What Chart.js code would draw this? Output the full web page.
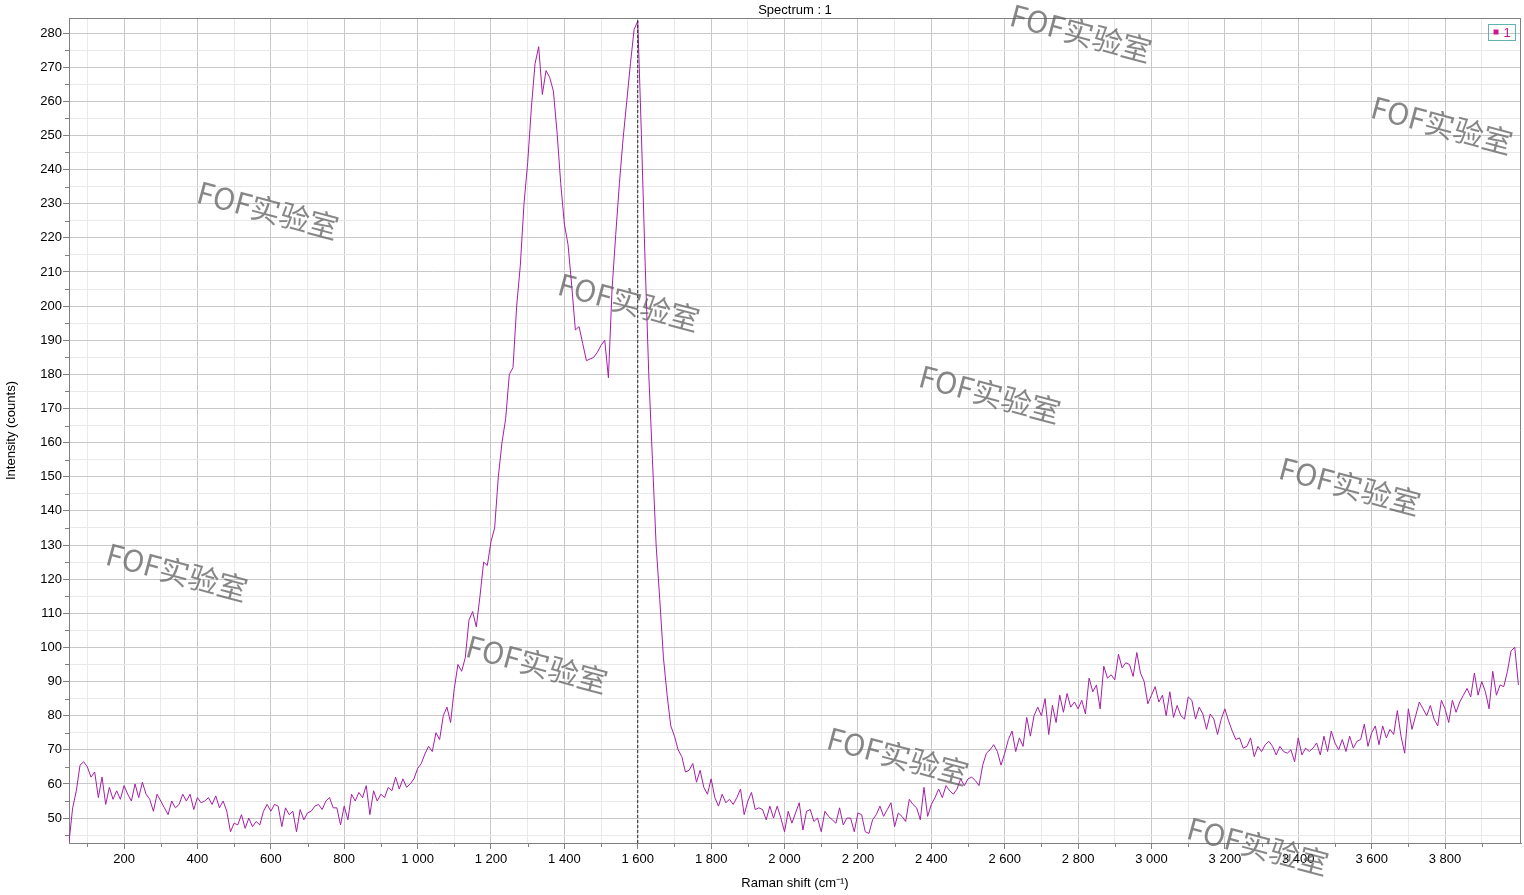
<!DOCTYPE html>
<html>
<head>
<meta charset="utf-8">
<title>Spectrum : 1</title>
<script src="https://cdn.jsdelivr.net/npm/chart.js@4.4.1/dist/chart.umd.min.js"></script>
<style>
  html, body { margin: 0; padding: 0; background: #fff; }
  #wrap { width: 1524px; height: 895px; position: relative; }
</style>
</head>
<body>
<div id="wrap"><canvas id="spectrum"></canvas></div>
<script>
// spectrum sampled every 10 cm-1, starting at 50 cm-1
const shiftStart = 50;
const shiftStep = 10;
const intensity = [
  43, 53, 58, 65.5, 66.5, 65, 62, 63.5, 56, 62,                    // 50
  54, 59, 55.5, 58, 55.5, 59.5, 57, 55, 60, 56,                    // 150
  60.5, 57, 55.5, 52, 57, 55, 53, 51, 55, 53,                      // 250
  54, 57, 55, 57, 52.5, 56, 54.5, 55, 56, 54,                      // 350
  56.5, 53, 55, 52, 46, 48.5, 48, 51, 47, 50,                      // 450
  47.5, 49, 48, 52, 54, 52, 54, 53.5, 47.5, 53,                    // 550
  51, 52, 46, 52.5, 49.5, 51.5, 52, 53.5, 54, 52.5,                // 650
  55, 56, 53, 53, 48, 53.5, 49.5, 57, 55, 57.5,                    // 750
  56, 59.5, 51, 58, 55, 57, 56, 59, 58, 62,                        // 850
  58.5, 61.5, 59, 60, 61.5, 64.5, 66, 68.8, 71, 69.5,              // 950
  75, 73, 80, 82.5, 78, 88, 95, 93, 97, 108,                       // 1050
  110.5, 106, 115, 125, 124, 131, 135, 150, 160, 167,              // 1150
  180, 182, 200, 212, 230, 242, 258, 271, 276, 262,                // 1250
  269, 267, 263, 251, 236, 224, 218, 206, 193, 194,                // 1350
  189, 184, 184.5, 185, 186.5, 188.5, 190, 179, 205, 221,          // 1450
  236, 249, 260, 271, 281, 283.5, 250, 213, 180, 155,              // 1550
  130, 114, 97, 86, 77, 74, 70, 68, 63.5, 64,                      // 1650
  66, 60.5, 64, 59, 57, 61.5, 56, 53.5, 57, 54.5,                  // 1750
  55.5, 54, 56, 58.5, 51, 55, 57.5, 52.5, 53, 52.5,                // 1850
  49.5, 53.5, 50, 53.5, 50, 46, 52, 48.5, 51.5, 54.5,              // 1950
  46.5, 52, 52.5, 49, 50, 46, 52, 50.5, 49.5, 48.5,                // 2050
  53, 48, 50, 50, 46, 51.5, 51, 46, 45.5, 49.5,                    // 2150
  51, 53.5, 50.5, 52.5, 54.5, 47.5, 51.5, 50.5, 49, 55.5,          // 2250
  54, 53, 49.5, 59, 50.5, 54, 56, 58.5, 56, 59.5,                  // 2350
  58, 57, 58.5, 61.5, 59.5, 61.5, 62, 61, 59.5, 65.5,              // 2450
  69, 70, 71.5, 69.5, 65.5, 69, 73, 75.5, 69.5, 73.5,              // 2550
  71, 79.5, 74, 80, 82.5, 80, 85, 74.5, 83, 78,                    // 2650
  86, 81, 86.5, 82.5, 84, 82, 84.5, 80.5, 91, 87,                  // 2750
  89, 82, 94.5, 91, 92, 90.5, 98, 94, 95.5, 95,                    // 2850
  91.5, 98.5, 92.5, 90, 83.5, 86, 88.5, 84, 86, 80,                // 2950
  87, 79.5, 83, 80, 79, 85.5, 84.5, 79, 82.5, 80.5,                // 3050
  76, 80.5, 79, 74.5, 79, 82, 78.5, 75.5, 73, 73.5,                // 3150
  70.5, 71, 73.5, 68, 71, 69.5, 71.5, 72.5, 71, 68.5,              // 3250
  71, 69.5, 69, 70, 66.5, 73.5, 68.5, 70.5, 69.5, 70.5,            // 3350
  72, 68.5, 74, 69.5, 75.5, 72, 70, 73, 69.5, 74,                  // 3450
  70.5, 72.5, 73, 77.5, 71, 75, 77, 71.5, 77, 73.5,                // 3550
  76, 74.5, 81.5, 74, 69, 82, 76, 80, 84, 82,                      // 3650
  80, 83, 79, 77, 84.5, 82, 78, 84.5, 81, 84,                      // 3750
  86, 88, 85.5, 92.5, 86, 90, 87, 82, 93, 86,                      // 3850
  89, 88.5, 93, 99, 100, 89                                        // 3950
];
const ramanShift = intensity.map((v, i) => shiftStart + i * shiftStep);

const cursorShift = 1600;
const xRange = [50, 4007];
const yRange = [42.7, 284.4];

const xMajor = [200, 400, 600, 800, 1000, 1200, 1400, 1600, 1800, 2000, 2200, 2400, 2600, 2800, 3000, 3200, 3400, 3600, 3800];
const xMinor = [100, 300, 500, 700, 900, 1100, 1300, 1500, 1700, 1900, 2100, 2300, 2500, 2700, 2900, 3100, 3300, 3500, 3700, 3900];
const yMajor = [50, 60, 70, 80, 90, 100, 110, 120, 130, 140, 150, 160, 170, 180, 190, 200, 210, 220, 230, 240, 250, 260, 270, 280];
const yMinor = [45, 55, 65, 75, 85, 95, 105, 115, 125, 135, 145, 155, 165, 175, 185, 195, 205, 215, 225, 235, 245, 255, 265, 275];

const watermark = 'FOF实验室';
const watermarkSpots = [
  [1081, 33], [1442, 125], [268, 210], [629, 302], [990, 394],
  [1350, 486], [177, 572], [537, 664], [898, 756], [1258, 846]
];

function spaced(v) {
  return String(v).replace(/\B(?=(\d{3})+(?!\d))/g, ' ');
}

Chart.defaults.font.family = '"Liberation Sans", Arial, sans-serif';
Chart.defaults.font.size = 13;
Chart.defaults.color = '#000';

const decor = {
  id: 'decor',
  beforeDatasetsDraw(chart) {
    const ctx = chart.ctx, ca = chart.chartArea;
    const sx = chart.scales.x, sy = chart.scales.y;
    ctx.save();
    ctx.strokeStyle = '#808080';
    ctx.lineWidth = 1;
    ctx.beginPath();
    // top and right edges of the frame
    ctx.moveTo(ca.left, ca.top + 0.5);
    ctx.lineTo(ca.right, ca.top + 0.5);
    ctx.moveTo(ca.right - 0.5, ca.top);
    ctx.lineTo(ca.right - 0.5, ca.bottom);
    // short minor ticks
    xMinor.forEach(v => {
      const px = Math.round(sx.getPixelForValue(v)) + 0.5;
      ctx.moveTo(px, ca.bottom);
      ctx.lineTo(px, ca.bottom + 4);
    });
    yMinor.forEach(v => {
      const py = Math.round(sy.getPixelForValue(v)) + 0.5;
      ctx.moveTo(ca.left - 4, py);
      ctx.lineTo(ca.left, py);
    });
    ctx.stroke();
    ctx.restore();
  },
  afterDraw(chart) {
    const ctx = chart.ctx, ca = chart.chartArea;
    ctx.save();
    // legend box in the top right corner
    const bx = ca.right - 32.5, by = ca.top + 6.5;
    ctx.strokeStyle = '#5fb3b5';
    ctx.lineWidth = 1;
    ctx.strokeRect(bx, by, 27, 16);
    ctx.fillStyle = '#d0168f';
    ctx.fillRect(bx + 5, by + 5, 5, 5);
    ctx.fillStyle = '#c01890';
    ctx.font = '13px "Liberation Sans", Arial, sans-serif';
    ctx.textBaseline = 'middle';
    ctx.fillText('1', bx + 15, by + 8.5);

    // watermarks
    ctx.font = '30px "Noto Sans CJK SC", "Noto Sans", sans-serif';
    ctx.fillStyle = 'rgba(95,95,95,0.75)';
    ctx.textAlign = 'center';
    ctx.textBaseline = 'middle';
    watermarkSpots.forEach(([wx, wy]) => {
      ctx.save();
      ctx.translate(wx, wy);
      ctx.rotate(15 * Math.PI / 180);
      ctx.fillText(watermark, 0, 0);
      ctx.restore();
    });
    ctx.restore();
  }
};

const chart = new Chart(document.getElementById('spectrum'), {
  type: 'line',
  data: {
    datasets: [{
      label: '1',
      data: ramanShift.map((x, i) => ({x: x, y: intensity[i]})),
      borderColor: '#a61ea6',
      borderWidth: 1,
      pointRadius: 0,
      tension: 0,
      order: 1
    }, {
      label: 'cursor',
      data: [{x: cursorShift, y: yRange[0]}, {x: cursorShift, y: yRange[1]}],
      borderColor: '#222',
      borderWidth: 1,
      borderDash: [3, 2],
      pointRadius: 0,
      order: 0
    }]
  },
  options: {
    responsive: true,
    maintainAspectRatio: false,
    animation: false,
    layout: { padding: { right: 3 } },
    plugins: {
      legend: { display: false },
      tooltip: { enabled: false },
      title: {
        display: true,
        fullSize: false,
        text: 'Spectrum : 1',
        color: '#000',
        font: { size: 13, weight: 'normal' },
        padding: { top: 2.2, bottom: 0.2 }
      }
    },
    scales: {
      x: {
        type: 'linear',
        min: xRange[0],
        max: xRange[1],
        afterBuildTicks: s => {
          s.ticks = xMajor.concat(xMinor).sort((a, b) => a - b).map(v => ({value: v}));
        },
        afterFit: s => { s.height = 52; },
        ticks: {
          autoSkip: false,
          maxRotation: 0,
          padding: 3,
          callback: v => xMajor.includes(v) ? spaced(v) : ''
        },
        grid: {
          color: c => xMajor.includes(c.tick && c.tick.value) ? '#c9c9c9' : '#e9e9e9',
          tickColor: c => xMajor.includes(c.tick && c.tick.value) ? '#808080' : 'rgba(0,0,0,0)',
          tickLength: 6
        },
        border: { color: '#808080' },
        title: {
          display: true,
          text: 'Raman shift (cm⁻¹)',
          font: { size: 13 },
          padding: { top: 0, bottom: 3.5 }
        }
      },
      y: {
        type: 'linear',
        min: yRange[0],
        max: yRange[1],
        afterBuildTicks: s => {
          s.ticks = yMinor.concat(yMajor).sort((a, b) => a - b).map(v => ({value: v}));
        },
        afterFit: s => { s.width = 69; },
        ticks: {
          autoSkip: false,
          padding: 1,
          callback: v => yMajor.includes(v) ? String(v) : ''
        },
        grid: {
          color: c => yMajor.includes(c.tick && c.tick.value) ? '#c9c9c9' : '#e9e9e9',
          tickColor: c => yMajor.includes(c.tick && c.tick.value) ? '#808080' : 'rgba(0,0,0,0)',
          tickLength: 6
        },
        border: { color: '#808080' },
        title: {
          display: true,
          text: 'Intensity (counts)',
          font: { size: 13 },
          padding: { top: 4, bottom: 0 }
        }
      }
    }
  },
  plugins: [decor]
});
</script>
</body>
</html>
